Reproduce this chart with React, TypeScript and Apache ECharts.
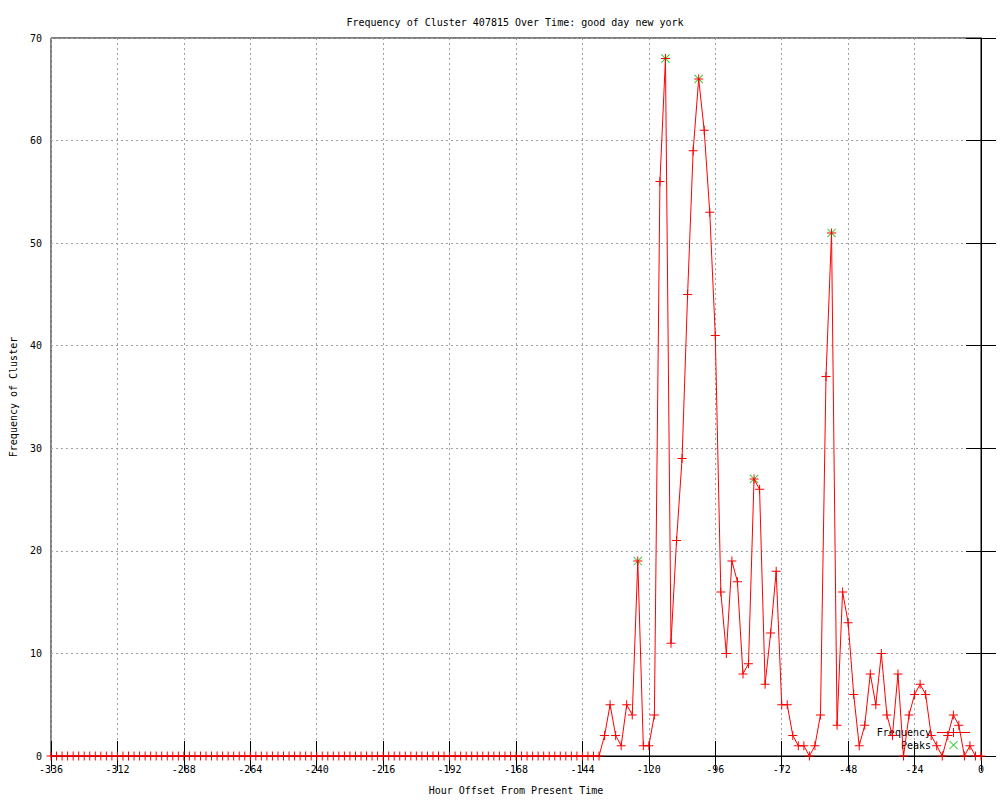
import React, { useEffect, useRef } from "react";
import * as echarts from "echarts";

const TITLE = "Frequency of Cluster 407815 Over Time: good day new york";
const X_NAME = "Hour Offset From Present Time";
const Y_NAME = "Frequency of Cluster";

const hours = [
  -336, -334, -332, -330, -328, -326, -324, -322, -320, -318, -316, -314, -312, -310, -308, -306, -304, -302, -300, -298,
  -296, -294, -292, -290, -288, -286, -284, -282, -280, -278, -276, -274, -272, -270, -268, -266, -264, -262, -260, -258,
  -256, -254, -252, -250, -248, -246, -244, -242, -240, -238, -236, -234, -232, -230, -228, -226, -224, -222, -220, -218,
  -216, -214, -212, -210, -208, -206, -204, -202, -200, -198, -196, -194, -192, -190, -188, -186, -184, -182, -180, -178,
  -176, -174, -172, -170, -168, -166, -164, -162, -160, -158, -156, -154, -152, -150, -148, -146, -144, -142, -140, -138,
  -136, -134, -132, -130, -128, -126, -124, -122, -120, -118, -116, -114, -112, -110, -108, -106, -104, -102, -100, -98,
  -96, -94, -92, -90, -88, -86, -84, -82, -80, -78, -76, -74, -72, -70, -68, -66, -64, -62, -60, -58,
  -56, -54, -52, -50, -48, -46, -44, -42, -40, -38, -36, -34, -32, -30, -28, -26, -24, -22, -20, -18,
  -16, -14, -12, -10, -8, -6, -4, -2, 0,
];

const frequency = [
  0, 0, 0, 0, 0, 0, 0, 0, 0, 0, 0, 0, 0, 0, 0, 0, 0, 0, 0, 0,
  0, 0, 0, 0, 0, 0, 0, 0, 0, 0, 0, 0, 0, 0, 0, 0, 0, 0, 0, 0,
  0, 0, 0, 0, 0, 0, 0, 0, 0, 0, 0, 0, 0, 0, 0, 0, 0, 0, 0, 0,
  0, 0, 0, 0, 0, 0, 0, 0, 0, 0, 0, 0, 0, 0, 0, 0, 0, 0, 0, 0,
  0, 0, 0, 0, 0, 0, 0, 0, 0, 0, 0, 0, 0, 0, 0, 0, 0, 0, 0, 0,
  2, 5, 2, 1, 5, 4, 19, 1, 1, 4, 56, 68, 11, 21, 29, 45, 59, 66, 61, 53,
  41, 16, 10, 19, 17, 8, 9, 27, 26, 7, 12, 18, 5, 5, 2, 1, 1, 0, 1, 4,
  37, 51, 3, 16, 13, 6, 1, 3, 8, 5, 10, 4, 2, 8, 0, 4, 6, 7, 6, 2,
  1, 0, 2, 4, 3, 0, 1, 0, 0,
];

const peakHours = [-124, -114, -102, -82, -54];
const peakValues = [19, 68, 66, 27, 51];

const PLUS = "path://M4,0h1v9h-1zM0,4h9v1h-9z";
const CROSS = "path://M0,0.7L0.7,0L9,8.3L8.3,9ZM8.3,0L9,0.7L0.7,9L0,8.3Z";
const FONT = "'DejaVu Sans Mono', 'Liberation Mono', monospace";

export default function App() {
  const ref = useRef<HTMLDivElement>(null);

  useEffect(() => {
    if (!ref.current) return;
    const chart = echarts.init(ref.current, null, { renderer: "svg" });
    const textStyle = { fontFamily: FONT, fontSize: 10, color: "#000" };
    const gridLine = { show: true, lineStyle: { color: "#a0a0a0", type: [2, 3] as any, width: 1 } };
    const tick = { show: true, inside: true, length: 15, lineStyle: { color: "#000", width: 1 } };

    chart.setOption({
      animation: false,
      backgroundColor: "#fff",
      textStyle,
      title: {
        text: TITLE,
        left: 510,
        top: 12,
        textAlign: "center",
        textStyle: { ...textStyle, fontWeight: "normal" },
      },
      grid: {
        left: 50,
        right: 19,
        top: 38,
        bottom: 40,
        show: true,
        borderColor: "#000",
        borderWidth: 1,
        backgroundColor: "transparent",
      },
      xAxis: [
        {
          type: "value",
          min: -336,
          max: 0,
          interval: 24,
          position: "bottom",
          name: X_NAME,
          nameLocation: "middle",
          nameGap: 29,
          nameTextStyle: textStyle,
          axisLine: { show: true, lineStyle: { color: "#000", width: 1 } },
          axisTick: tick,
          axisLabel: { ...textStyle, margin: 8 },
          splitLine: gridLine,
        },
        {
          type: "value",
          min: -336,
          max: 0,
          interval: 24,
          position: "top",
          axisLine: { show: false },
          axisTick: tick,
          axisLabel: { show: false },
          splitLine: { show: false },
        },
      ],
      yAxis: [
        {
          type: "value",
          min: 0,
          max: 70,
          interval: 10,
          position: "left",
          name: Y_NAME,
          nameLocation: "middle",
          nameGap: 33,
          nameTextStyle: textStyle,
          axisLine: { show: true, lineStyle: { color: "#000", width: 1 } },
          axisTick: tick,
          axisLabel: { ...textStyle, margin: 9 },
          splitLine: gridLine,
        },
        {
          type: "value",
          min: 0,
          max: 70,
          interval: 10,
          position: "right",
          axisLine: { show: false },
          axisTick: tick,
          axisLabel: { show: false },
          splitLine: { show: false },
        },
      ],
      series: [
        {
          name: "Peaks",
          type: "scatter",
          data: peakHours.map((h, i) => [h, peakValues[i]]),
          symbol: CROSS,
          symbolSize: 9,
          itemStyle: { color: "#00c000" },
          z: 3,
        },
        {
          name: "Frequency",
          type: "line",
          data: hours.map((h, i) => [h, frequency[i]]),
          symbol: PLUS,
          symbolSize: 9,
          showSymbol: true,
          showAllSymbol: true,
          clip: false,
          itemStyle: { color: "#ff0000" },
          lineStyle: { color: "#ff0000", width: 1 },
          z: 4,
        },
      ],
      graphic: [
        {
          type: "text",
          right: 1000 - 931,
          top: 727,
          style: { text: "Frequency", font: `10px ${FONT}`, fill: "#000", align: "right" },
        },
        { type: "line", shape: { x1: 937, y1: 732.5, x2: 970, y2: 732.5 }, style: { stroke: "#ff0000", lineWidth: 1 } },
        { type: "line", shape: { x1: 953.5, y1: 728, x2: 953.5, y2: 737 }, style: { stroke: "#ff0000", lineWidth: 1 } },
        {
          type: "text",
          right: 1000 - 931,
          top: 740,
          style: { text: "Peaks", font: `10px ${FONT}`, fill: "#000", align: "right" },
        },
        { type: "line", shape: { x1: 949.5, y1: 741, x2: 957.5, y2: 749 }, style: { stroke: "#00c000", lineWidth: 1 } },
        { type: "line", shape: { x1: 957.5, y1: 741, x2: 949.5, y2: 749 }, style: { stroke: "#00c000", lineWidth: 1 } },
      ],
    });
    return () => chart.dispose();
  }, []);

  return (
    <div
      ref={ref}
      style={{ position: "fixed", left: 0, top: 0, width: 1000, height: 800, background: "#fff" }}
    />
  );
}
